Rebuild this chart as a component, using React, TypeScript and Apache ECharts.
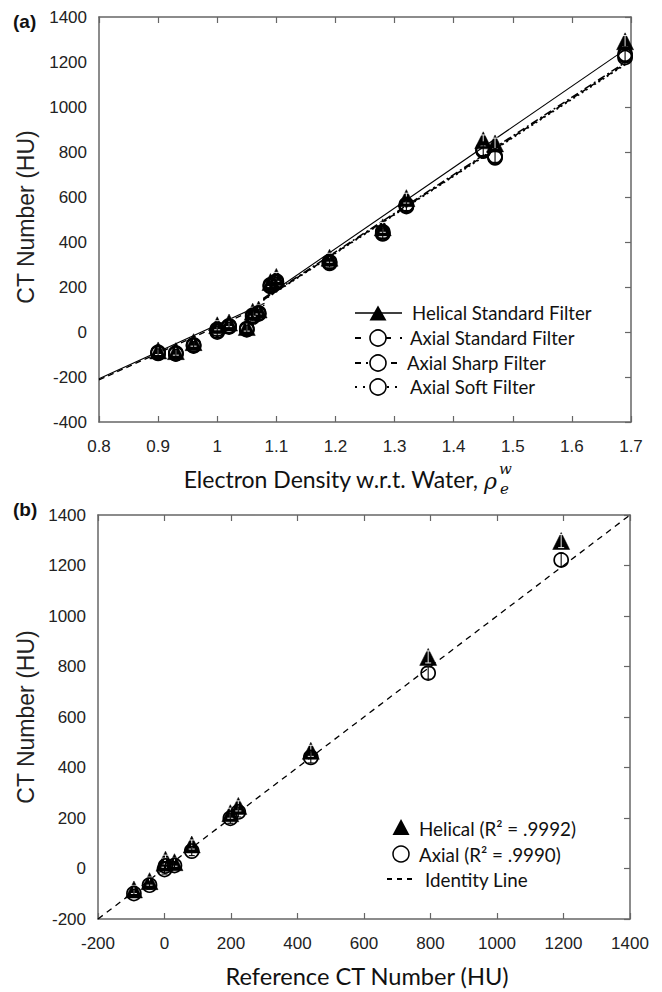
import React, { useEffect, useRef } from "react";
import * as echarts from "echarts";

// ---------- Panel (a) data ----------
const density = [0.9, 0.93, 0.96, 1.0, 1.02, 1.05, 1.06, 1.07, 1.09, 1.1, 1.19, 1.28, 1.32, 1.45, 1.47, 1.69];
const helicalStd = [-82, -85, -45, 30, 42, 22, 90, 100, 222, 245, 330, 465, 595, 852, 838, 1292];
const axialStd = [-93, -96, -60, 5, 25, 12, 70, 82, 205, 222, 308, 440, 562, 808, 778, 1228];
const axialSharp = [-90, -93, -57, 12, 28, 15, 74, 85, 210, 226, 312, 445, 567, 812, 782, 1235];
const axialSoft = [-95, -98, -62, 0, 22, 10, 66, 80, 202, 218, 305, 436, 558, 804, 774, 1220];
const helicalErr = [18, 18, 18, 20, 18, 18, 20, 20, 20, 20, 20, 22, 22, 24, 24, 26];
const axialErr = [18, 18, 18, 20, 18, 18, 20, 20, 20, 20, 20, 22, 22, 24, 24, 26];

const helicalFitLow = [[0.8, -208], [1.08, 128]];
const helicalFitHigh = [[1.078, 150], [1.69, 1255]];
const axialStdFitLow = [[0.8, -213], [1.08, 120]];
const axialStdFitHigh = [[1.078, 143], [1.69, 1192]];
const axialSharpFitHigh = [[1.078, 146], [1.69, 1198]];
const axialSoftFitHigh = [[1.078, 141], [1.69, 1188]];

// ---------- Panel (b) data ----------
const referenceCT = [-92, -45, 0, 3, 30, 82, 198, 222, 440, 793, 1193];
const helicalCT = [-83, -50, 23, 35, 25, 95, 219, 248, 466, 838, 1297];
const axialCT = [-99, -66, -4, 10, 12, 69, 199, 224, 440, 774, 1222];
const helicalCTErr = [16, 16, 18, 18, 16, 18, 20, 20, 22, 24, 26];
const axialCTErr = [16, 16, 18, 18, 16, 18, 20, 20, 22, 24, 26];
const identityLine = [[-200, -200], [1400, 1400]];

// ---------- Axes ----------
const aX = { min: 0.8, max: 1.7, interval: 0.1 };
const aY = { min: -400, max: 1400, interval: 200 };
const bX = { min: -200, max: 1400, interval: 200 };
const bY = { min: -200, max: 1400, interval: 200 };

const ARIAL = "'Liberation Sans', Arial, sans-serif";
const CAL = "Lato, 'Open Sans', sans-serif";
const AXIS_COLOR = "#666";
const LABEL_COLOR = "#222";

function pairs(xs: number[], ys: number[]) {
  return xs.map((x, i) => [x, ys[i]]);
}
function triples(xs: number[], ys: number[], es: number[]) {
  return xs.map((x, i) => [x, ys[i], es[i]]);
}

function axisPair(gridIndex: number, range: any, dim: "x" | "y", showLabel: boolean, fmt?: (v: number) => string) {
  const main: any = {
    type: "value",
    gridIndex,
    min: range.min,
    max: range.max,
    interval: range.interval,
    position: dim === "x" ? "bottom" : "left",
    axisLine: { show: true, onZero: false, lineStyle: { color: AXIS_COLOR, width: 1.5 } },
    axisTick: { show: dim === "x", inside: true, length: 6, lineStyle: { color: AXIS_COLOR, width: 1.2 } },
    splitLine: { show: false },
    axisLabel: {
      show: showLabel,
      fontFamily: ARIAL,
      fontSize: 17,
      color: LABEL_COLOR,
      margin: dim === "x" ? 16 : 12,
      formatter: fmt,
    },
  };
  const mirror: any = {
    type: "value",
    gridIndex,
    min: range.min,
    max: range.max,
    interval: range.interval,
    position: dim === "x" ? "top" : "right",
    axisLine: { show: true, onZero: false, lineStyle: { color: AXIS_COLOR, width: 1.5 } },
    axisTick: { show: true, inside: true, length: 6, lineStyle: { color: AXIS_COLOR, width: 1.2 } },
    splitLine: { show: false },
    axisLabel: { show: false },
  };
  return [main, mirror];
}

function errorBarSeries(xAxisIndex: number, yAxisIndex: number, data: number[][], color: string, z: number, lw: number) {
  return {
    type: "custom",
    xAxisIndex,
    yAxisIndex,
    z,
    silent: true,
    encode: { x: 0, y: 1 },
    data,
    renderItem: (params: any, api: any) => {
      const x = api.value(0);
      const y = api.value(1);
      const e = api.value(2);
      const top = api.coord([x, y + e]);
      const bot = api.coord([x, y - e]);
      const c = 3;
      const st = { stroke: color, lineWidth: lw };
      return {
        type: "group",
        children: [
          { type: "line", shape: { x1: top[0], y1: top[1], x2: bot[0], y2: bot[1] }, style: st },
          { type: "line", shape: { x1: top[0] - c, y1: top[1], x2: top[0] + c, y2: top[1] }, style: st },
          { type: "line", shape: { x1: bot[0] - c, y1: bot[1], x2: bot[0] + c, y2: bot[1] }, style: st },
        ],
      };
    },
  };
}

function fitLine(data: number[][], dash: any, width: number, xi: number, yi: number) {
  return {
    type: "line",
    xAxisIndex: xi,
    yAxisIndex: yi,
    data,
    showSymbol: false,
    symbol: "none",
    silent: true,
    z: 1,
    lineStyle: { color: "#000", width, type: dash },
  };
}

function scatter(data: number[][], symbol: string, size: number, filled: boolean, xi: number, yi: number, z: number) {
  return {
    type: "scatter",
    xAxisIndex: xi,
    yAxisIndex: yi,
    data,
    symbol,
    symbolSize: size,
    z,
    itemStyle: filled
      ? { color: "#000", borderColor: "#000", borderWidth: 0.5, opacity: 1 }
      : { color: "transparent", borderColor: "#000", borderWidth: 1.7, opacity: 1 },
  };
}

function tri(cx: number, cy: number, w: number, h: number) {
  return [[cx - w / 2, cy + h / 2], [cx + w / 2, cy + h / 2], [cx, cy - h / 2]];
}

export default function App() {
  const ref = useRef<HTMLDivElement>(null);
  useEffect(() => {
    if (!ref.current) return;
    const chart = echarts.init(ref.current, undefined, { renderer: "svg" });
    const fmtA = (v: number) => String(+Number(v).toFixed(1));
    const fmtI = (v: number) => String(Math.round(v));
    const [ax0, ax1] = axisPair(0, aX, "x", true, fmtA);
    const [ay0, ay1] = axisPair(0, aY, "y", true, fmtI);
    const [bx0, bx1] = axisPair(1, bX, "x", true, fmtI);
    const [by0, by1] = axisPair(1, bY, "y", true, fmtI);

    const legendA = [
      { y: 313, dash: null, marker: "tri", text: "Helical Standard Filter", tx: 412 },
      { y: 338, dash: [6, 9], marker: "circ", text: "Axial Standard Filter", tx: 410 },
      { y: 363, dash: [6, 5, 2, 5], marker: "circ", text: "Axial Sharp Filter", tx: 407 },
      { y: 387, dash: [2, 6], marker: "circ", text: "Axial Soft Filter", tx: 410 },
    ];
    const graphics: any[] = [];
    legendA.forEach((r) => {
      graphics.push({
        type: "line",
        shape: { x1: 355, y1: r.y, x2: 402, y2: r.y },
        style: { stroke: "#000", lineWidth: r.dash ? 2.2 : 1.6, lineDash: r.dash || undefined },
      });
      if (r.marker === "tri") {
        graphics.push({ type: "polygon", shape: { points: tri(378, r.y, 17, 15) }, style: { fill: "#000" } });
      } else {
        graphics.push({ type: "circle", shape: { cx: 378, cy: r.y, r: 8 }, style: { fill: "#fff", stroke: "#000", lineWidth: 1.6 } });
      }
      graphics.push({
        type: "text",
        x: r.tx,
        y: r.y,
        style: { text: r.text, fontFamily: CAL, fontSize: 18.6, fill: "#111", textAlign: "left", textVerticalAlign: "middle" },
      });
    });
    // legend (b)
    graphics.push({ type: "polygon", shape: { points: tri(401, 827, 17, 16) }, style: { fill: "#000" } });
    graphics.push({ type: "text", x: 419, y: 828, style: { text: "Helical (R² = .9992)", fontFamily: CAL, fontSize: 18.8, fill: "#111", textVerticalAlign: "middle" } });
    graphics.push({ type: "circle", shape: { cx: 401, cy: 854, r: 8 }, style: { fill: "#fff", stroke: "#000", lineWidth: 1.5 } });
    graphics.push({ type: "text", x: 419, y: 854, style: { text: "Axial (R² = .9990)", fontFamily: CAL, fontSize: 18.8, fill: "#111", textVerticalAlign: "middle" } });
    graphics.push({ type: "line", shape: { x1: 387, y1: 879, x2: 415, y2: 879 }, style: { stroke: "#000", lineWidth: 2, lineDash: [5, 5] } });
    graphics.push({ type: "text", x: 425, y: 879, style: { text: "Identity Line", fontFamily: CAL, fontSize: 18.8, fill: "#111", textVerticalAlign: "middle" } });

    // panel labels
    graphics.push({ type: "text", x: 13, y: 21, style: { text: "(a)", fontFamily: ARIAL, fontWeight: "bold", fontSize: 19, fill: "#111", textVerticalAlign: "middle" } });
    graphics.push({ type: "text", x: 13, y: 509, style: { text: "(b)", fontFamily: ARIAL, fontWeight: "bold", fontSize: 19, fill: "#111", textVerticalAlign: "middle" } });

    // y titles
    graphics.push({ type: "text", x: 26, y: 217, rotation: Math.PI / 2, style: { text: "CT Number (HU)", fontFamily: ARIAL, fontSize: 23, fill: "#222", textAlign: "center", textVerticalAlign: "middle" } });
    graphics.push({ type: "text", x: 26, y: 717, rotation: Math.PI / 2, style: { text: "CT Number (HU)", fontFamily: ARIAL, fontSize: 23, fill: "#222", textAlign: "center", textVerticalAlign: "middle" } });

    // x titles
    graphics.push({ type: "text", x: 478, y: 479, style: { text: "Electron Density w.r.t. Water,", fontFamily: CAL, fontSize: 23, fill: "#111", textAlign: "right", textVerticalAlign: "middle" } });
    graphics.push({ type: "text", x: 484, y: 481, style: { text: "ρ", fontFamily: "'DejaVu Serif', serif", fontStyle: "italic", fontSize: 22, fill: "#111", textAlign: "left", textVerticalAlign: "middle" } });
    graphics.push({ type: "text", x: 499, y: 469, style: { text: "w", fontFamily: "'DejaVu Serif', serif", fontStyle: "italic", fontSize: 15, fill: "#111", textAlign: "left", textVerticalAlign: "middle" } });
    graphics.push({ type: "text", x: 500, y: 489, style: { text: "e", fontFamily: "'DejaVu Serif', serif", fontStyle: "italic", fontSize: 15, fill: "#111", textAlign: "left", textVerticalAlign: "middle" } });
    graphics.push({ type: "text", x: 367, y: 976, style: { text: "Reference CT Number (HU)", fontFamily: CAL, fontSize: 23.6, fill: "#111", textAlign: "center", textVerticalAlign: "middle" } });

    const option: any = {
      animation: false,
      backgroundColor: "#fff",
      grid: [
        { left: 99, top: 17, width: 532, height: 405 },
        { left: 98, top: 515, width: 532, height: 404 },
      ],
      xAxis: [ax0, ax1, bx0, bx1],
      yAxis: [ay0, ay1, by0, by1],
      series: [
        fitLine(helicalFitLow, "solid", 1.2, 0, 0),
        fitLine(axialStdFitLow, [6, 4], 1.3, 0, 0),
        fitLine(helicalFitHigh, "solid", 1.1, 0, 0),
        fitLine(axialStdFitHigh, [6, 4], 1.5, 0, 0),
        fitLine(axialSharpFitHigh, [8, 3, 2, 3], 1.5, 0, 0),
        fitLine(axialSoftFitHigh, [2, 3], 1.5, 0, 0),
        scatter(pairs(density, helicalStd), "triangle", 17, true, 0, 0, 3),
        errorBarSeries(0, 0, triples(density, helicalStd, helicalErr), "#fff", 4, 0.9),
        scatter(pairs(density, axialSoft), "circle", 14, false, 0, 0, 5),
        scatter(pairs(density, axialSharp), "circle", 14, false, 0, 0, 5),
        scatter(pairs(density, axialStd), "circle", 14, false, 0, 0, 5),
        errorBarSeries(0, 0, triples(density, axialStd, axialErr), "#000", 6, 1.1),

        fitLine(identityLine, [6, 5], 1.3, 2, 2),
        scatter(pairs(referenceCT, helicalCT), "triangle", 17, true, 2, 2, 3),
        errorBarSeries(2, 2, triples(referenceCT, helicalCT, helicalCTErr), "#fff", 4, 0.9),
        scatter(pairs(referenceCT, axialCT), "circle", 14, false, 2, 2, 5),
        errorBarSeries(2, 2, triples(referenceCT, axialCT, axialCTErr), "#000", 6, 1.1),
      ],
      graphic: graphics,
    };
    chart.setOption(option);
    return () => chart.dispose();
  }, []);
  return <div ref={ref} style={{ position: "absolute", left: 0, top: 0, width: 662, height: 992, background: "#fff" }} />;
}
